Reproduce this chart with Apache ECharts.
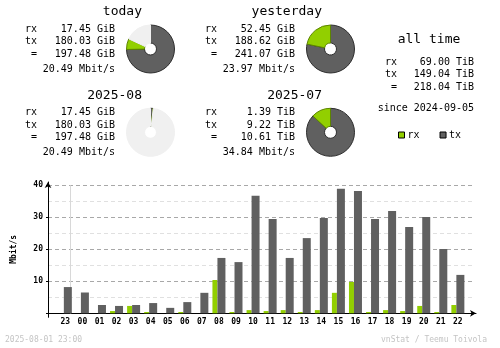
<!DOCTYPE html>
<html>
<head>
<meta charset="utf-8">
<script src="https://cdn.jsdelivr.net/npm/echarts@6/dist/echarts.min.js"></script>
<style>
  html, body { margin: 0; padding: 0; background: #fff; }
  #chart { width: 500px; height: 348px; }
</style>
</head>
<body>
<div id="chart"></div>
<script>
// ---- hourly traffic (Mbit/s) ----
const hours = ['23','00','01','02','03','04','05','06','07','08','09','10',
               '11','12','13','14','15','16','17','18','19','20','21','22'];
const rxRate = [0, 0, 0, 0.7, 2.3, 0.4, 0, 0.4, 0, 10.4, 0.4, 1.0,
                0.7, 1.0, 0.4, 1.0, 6.4, 9.8, 0.4, 1.0, 0.7, 2.3, 0.4, 2.6];
const txRate = [8.2, 6.5, 2.6, 2.3, 2.6, 3.2, 1.7, 3.5, 6.4, 17.3, 16.0, 36.7,
                29.5, 17.3, 23.5, 29.8, 38.9, 38.2, 29.5, 32.0, 27.0, 30.1, 20.1, 12.0];
const yTickValues = [10, 20, 30, 40];
// midnight falls between the first and second hour slot
const dayBoundary = 0.5;

// ---- period summaries ----
const periodNames = ['today', 'yesterday', '2025-08', '2025-07'];
const rxText    = ['17.45 GiB', '52.45 GiB', '17.45 GiB', '1.39 TiB'];
const txText    = ['180.03 GiB', '188.62 GiB', '180.03 GiB', '9.22 TiB'];
const totalText = ['197.48 GiB', '241.07 GiB', '197.48 GiB', '10.61 TiB'];
const rateText  = ['20.49 Mbit/s', '23.97 Mbit/s', '20.49 Mbit/s', '34.84 Mbit/s'];
// pie amounts in GiB; the full circle equals the larger of the paired periods
const rxGiB   = [17.45, 52.45, 17.45, 1423.36];
const txGiB   = [180.03, 188.62, 180.03, 9441.28];
const fullGiB = [241.07, 241.07, 10864.64, 10864.64];

const allTimeText = ['69.00 TiB', '149.04 TiB', '218.04 TiB'];
const sinceText = 'since 2024-09-05';
const stampText = '2025-08-01 23:00';
const creditText = 'vnStat / Teemu Toivola';

// ---- styling ----
const MONO = '"DejaVu Sans Mono", "Liberation Mono", monospace';
const RX_COLOR = '#92cf00', TX_COLOR = '#606060', REST_COLOR = '#f0f0f0';
const RX_EDGE = '#5d8500', TX_EDGE = '#2e2e2e';

const blockOrigins = [[0, 0], [180, 0], [0, 83.3], [180, 83.3]];

function txt(x, y, text, size, align, color) {
  return {
    type: 'text', x: x, y: y, silent: true,
    style: {
      text: text, font: (size || 10) + 'px ' + MONO, fill: color || '#000',
      align: align || 'left', verticalAlign: 'middle'
    }
  };
}

const graphics = [];
const pieSeries = [];
periodNames.forEach((name, i) => {
  const [dx, dy] = blockOrigins[i];
  graphics.push(txt(142 + dx, 12 + dy, name, 13, 'right'));
  graphics.push(txt(37 + dx, 29 + dy, 'rx', 10, 'right'));
  graphics.push(txt(37 + dx, 41.7 + dy, 'tx', 10, 'right'));
  graphics.push(txt(37 + dx, 54.2 + dy, '=', 10, 'right'));
  graphics.push(txt(115 + dx, 29 + dy, rxText[i], 10, 'right'));
  graphics.push(txt(115 + dx, 41.7 + dy, txText[i], 10, 'right'));
  graphics.push(txt(115 + dx, 54.2 + dy, totalText[i], 10, 'right'));
  graphics.push(txt(115 + dx, 69 + dy, rateText[i], 10, 'right'));

  const rest = fullGiB[i] - rxGiB[i] - txGiB[i];
  const data = [
    { name: name + ' tx', value: txGiB[i], itemStyle: { color: TX_COLOR, borderColor: TX_EDGE } },
    { name: name + ' rx', value: rxGiB[i], itemStyle: { color: RX_COLOR, borderColor: RX_EDGE } }
  ];
  if (rest > 0.001) {
    data.push({ name: name + ' rest', value: rest, itemStyle: { color: REST_COLOR, borderColor: REST_COLOR } });
  }
  pieSeries.push({
    type: 'pie', silent: true, animation: false,
    center: [150.5 + dx, 49 + dy], radius: [6, 24],
    startAngle: 90, clockwise: true, minAngle: 0,
    avoidLabelOverlap: false,
    label: { show: false }, labelLine: { show: false },
    itemStyle: { borderWidth: 1 },
    emphasis: { disabled: true },
    data: data
  });
});

// all time block
graphics.push(txt(429, 40, 'all time', 13, 'center'));
['rx', 'tx', '='].forEach((lab, k) => {
  const y = [62, 74.5, 87][k];
  graphics.push(txt(397, y, lab, 10, 'right'));
  graphics.push(txt(474, y, allTimeText[k], 10, 'right'));
});
graphics.push(txt(474, 108, sinceText, 10, 'right'));

// footer
graphics.push(txt(5, 340, stampText, 8, 'left', '#c4c4c4'));
graphics.push(txt(487, 340, creditText, 8, 'right', '#c4c4c4'));

const LABEL_FONT = { fontFamily: MONO, fontSize: 8, fontWeight: 'bold', color: '#000' };

// hour slots on a numeric axis: slot i is centred on x = i
const rxPoints = rxRate.map((v, i) => [i, v]);
const txPoints = txRate.map((v, i) => [i, v]);

const option = {
  backgroundColor: '#ffffff',
  animation: false,
  legend: {
    data: ['rx', 'tx'],
    left: 398, top: 130, padding: 0,
    itemWidth: 6, itemHeight: 6, itemGap: 20,
    icon: 'rect', selectedMode: false,
    itemStyle: { borderColor: '#000', borderWidth: 1 },
    textStyle: { fontFamily: MONO, fontSize: 10, color: '#000', padding: [0, 0, 0, -2] }
  },
  grid: [
    // 0: gridlines + value labels
    { left: 48, top: 185.3, width: 425, height: 128, containLabel: false },
    // 1: axis lines with arrows
    { left: 48, top: 182, width: 428, height: 135.3, containLabel: false },
    // 2: hourly bars
    { left: 56.8, top: 185.3, width: 409.6, height: 128, containLabel: false }
  ],
  xAxis: [
    { gridIndex: 0, type: 'value', min: 0, max: 1, show: false },
    {
      gridIndex: 1, type: 'value', min: 0, max: 1,
      axisLine: { show: true, onZero: true, symbol: ['none', 'arrow'], symbolSize: [5, 6],
                  lineStyle: { color: '#000', width: 1 } },
      axisTick: { show: false }, axisLabel: { show: false }, splitLine: { show: false }
    },
    {
      gridIndex: 2, type: 'value', min: -0.5, max: hours.length - 0.5, interval: 0.5,
      axisLine: { show: false }, axisTick: { show: false },
      axisLabel: Object.assign({
        margin: 5,
        showMinLabel: false, showMaxLabel: false,
        formatter: (v) => (Number.isInteger(v) && hours[v] !== undefined ? hours[v] : '')
      }, LABEL_FONT),
      splitLine: { show: false }
    }
  ],
  yAxis: [
    {
      gridIndex: 0, type: 'value', min: 0, max: 40, interval: 10,
      name: 'Mbit/s', nameLocation: 'middle', nameRotate: 90, nameGap: 30,
      nameTextStyle: LABEL_FONT,
      axisLine: { show: false },
      axisTick: { show: true, length: 2, lineStyle: { color: '#000' } },
      axisLabel: Object.assign({
        margin: 5,
        formatter: (v) => (yTickValues.indexOf(v) >= 0 ? String(v) : '')
      }, LABEL_FONT),
      splitLine: { show: true, lineStyle: { color: '#a8a8a8', type: [4, 3], width: 1 } },
      minorTick: { show: false, splitNumber: 2 },
      minorSplitLine: { show: true, lineStyle: { color: '#e0e0e0', type: [4, 3], width: 1 } }
    },
    {
      gridIndex: 1, type: 'value', min: -4, max: 131.3,
      axisLine: { show: true, symbol: ['none', 'arrow'], symbolSize: [5, 6],
                  lineStyle: { color: '#000', width: 1 } },
      axisTick: { show: false }, axisLabel: { show: false }, splitLine: { show: false }
    },
    { gridIndex: 2, type: 'value', min: 0, max: 40, show: false }
  ],
  graphic: { elements: graphics },
  series: [
    {
      name: 'rx', type: 'bar', xAxisIndex: 2, yAxisIndex: 2,
      data: rxPoints, barWidth: 5, barGap: '0%', z: 5,
      itemStyle: { color: RX_COLOR }, silent: true,
      markLine: {
        silent: true, symbol: ['none', 'none'], animation: false,
        label: { show: false },
        lineStyle: { color: '#d8d8d8', width: 1, type: 'solid' },
        emphasis: { disabled: true },
        data: [{ xAxis: dayBoundary }]
      }
    },
    {
      name: 'tx', type: 'bar', xAxisIndex: 2, yAxisIndex: 2,
      data: txPoints, barWidth: 8, barGap: '0%', z: 5,
      itemStyle: { color: TX_COLOR }, silent: true
    }
  ].concat(pieSeries)
};

const chart = echarts.init(document.getElementById('chart'), null, { renderer: 'canvas' });
chart.setOption(option);
</script>
</body>
</html>
